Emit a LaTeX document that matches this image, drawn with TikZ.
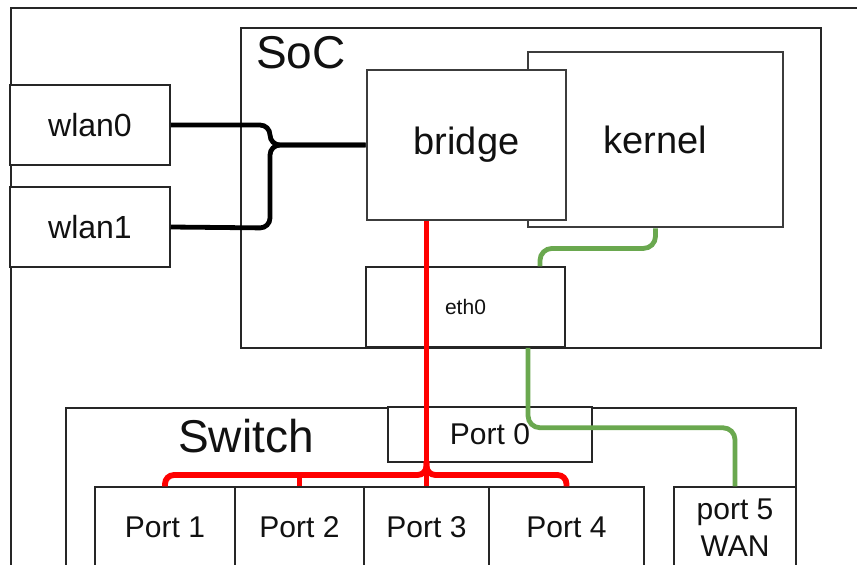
\documentclass[tikz,border=0pt]{standalone}
\usepackage{fontspec}
\setmainfont{Liberation Sans}
\usetikzlibrary{calc}
\definecolor{edge}{HTML}{262626}
\definecolor{txt}{HTML}{111111}
\definecolor{redw}{HTML}{FF0000}
\definecolor{greenw}{HTML}{6AA84F}
\tikzset{
  box/.style={draw=edge, line width=1.5pt, fill=white, rectangle, inner sep=0pt, text=txt},
  heavybox/.style={box, line width=2.8pt, draw=edge!90!white},
  fbig/.style={font=\fontsize{46}{52}\selectfont},
  fmid/.style={font=\fontsize{38}{44}\selectfont},
  fwlan/.style={font=\fontsize{32}{38}\selectfont},
  fport/.style={font=\fontsize{30}{37}\selectfont},
  fsmall/.style={font=\fontsize{21}{25}\selectfont},
  blackwire/.style={draw=black, line width=4.8pt, rounded corners=10pt},
  redwire/.style={draw=redw, line width=5.8pt, rounded corners=9pt},
  greenwire/.style={draw=greenw, line width=4.8pt, rounded corners=12pt},
}
\begin{document}
\begin{tikzpicture}[x=1pt, y=-1pt]
\useasboundingbox (0,0) rectangle (857,565);
% outer frame
\node[box, fill=none, anchor=north west, minimum width=900, minimum height=620] (outer) at (10,7) {};
% SoC
\node[box, anchor=north west, minimum width=580, minimum height=320] (soc) at (240,27) {};
\node[fbig, text=txt, anchor=base west, inner sep=0pt] (soclbl) at (256,68) {SoC};
% kernel and bridge
\node[heavybox, minimum width=255, minimum height=175, fmid] (kernel) at (655.5,139.5) {kernel};
\node[heavybox, minimum width=199, minimum height=150, fmid] (bridge) at (466.5,145) {bridge};
% eth0
\node[box, minimum width=199, minimum height=80, fsmall] (eth0) at (465.5,307) {eth0};
% wlan
\node[box, minimum width=160, minimum height=80, fwlan] (wlan0) at (90,125) {wlan0};
\node[box, minimum width=160, minimum height=80, fwlan] (wlan1) at (90,227) {wlan1};
% switch
\node[box, anchor=north west, minimum width=730, minimum height=220] (switch) at (65,407) {};
\node[fbig, text=txt, anchor=base west, inner sep=0pt] (switchlbl) at (178,452) {Switch};
\node[box, minimum width=204, minimum height=55, fport] (p0) at (490,434.5) {Port 0};
% ports
\node[box, minimum width=140, minimum height=81, fport] (p1) at (165,527.5) {Port 1};
\node[box, minimum width=129, minimum height=81, fport] (p2) at (299.5,527.5) {Port 2};
\node[box, minimum width=125, minimum height=81, fport] (p3) at (426.5,527.5) {Port 3};
\node[box, minimum width=155, minimum height=81, fport] (p4) at (566.5,527.5) {Port 4};
\node[box, minimum width=122, minimum height=81, fport, align=center] (p5) at (735,527.5) {port 5\\WAN};
% black wires
\draw[blackwire] (wlan0.east) -- (270,125) -- (270,145) -- (bridge.west);
\draw[blackwire] (wlan1.east) -- (270,228) -- (270,145) -- (bridge.west);
% red wires
\coordinate (rj) at (p3.north |- 0,475);
\draw[redwire, rounded corners=0pt] (bridge.south -| p3.north) -- (p3.north);
\draw[redwire] (p1.north) -- (p1.north |- rj) -- (rj) -- ($(rj)+(0,-14)$);
\draw[redwire] (p4.north) -- (p4.north |- rj) -- (rj) -- ($(rj)+(0,-14)$);
\draw[redwire] (p2.north) -- ($(p2.north |- rj)+(0,-2)$);
% green wires
\draw[greenwire] (kernel.south) -- ($(kernel.south)+(0,20)$) -| ($(eth0.north)+(74.5,0)$);
\draw[greenwire] ($(eth0.south)+(62.5,0)$) -- ($(eth0.south)+(62.5,80)$) -| (p5.north);
\end{tikzpicture}
\end{document}
